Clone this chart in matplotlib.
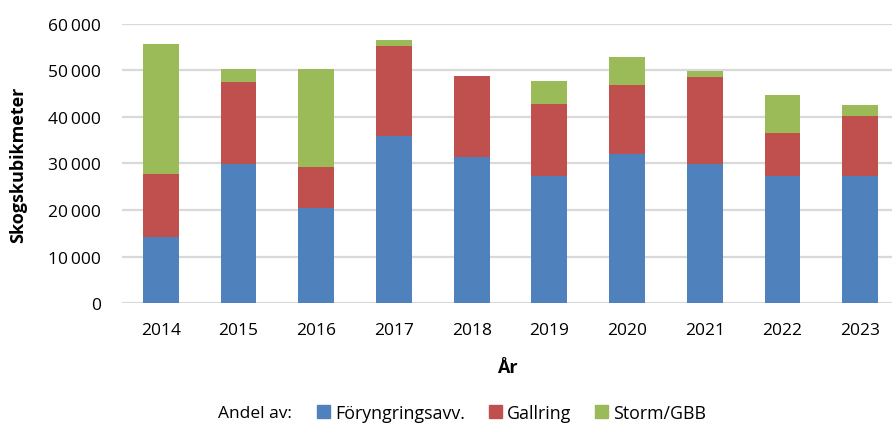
import matplotlib
matplotlib.use("Agg")
import matplotlib.pyplot as plt
from matplotlib.patches import Patch
from matplotlib.ticker import FuncFormatter
import numpy as np

plt.rcParams['font.family'] = ['Open Sans', 'DejaVu Sans']

# data (skogskubikmeter)
years = ["2014", "2015", "2016", "2017", "2018", "2019", "2020", "2021", "2022", "2023"]
foryngring = [14300, 29800, 20400, 36000, 31500, 27400, 32000, 29900, 27400, 27400]
gallring = [13400, 17700, 8900, 19200, 17300, 15400, 14900, 18700, 9200, 12900]
storm = [27900, 2800, 21000, 1400, 0, 4900, 6000, 1200, 8100, 2300]
series_names = ["Föryngringsavv.", "Gallring", "Storm/GBB"]
colors = ["#4F81BD", "#C0504D", "#9BBB59"]

W, H = 892, 427
fs = 12.5
fig = plt.figure(figsize=(W / 100, H / 100), dpi=100)
ax = fig.add_axes([122 / W, 123 / H, (892 - 122) / W, (304 - 25) / H])

x = np.arange(len(years))
bottom = np.zeros(len(years))
for vals, c in zip([foryngring, gallring, storm], colors):
    ax.bar(x, vals, width=0.46, bottom=bottom, color=c, zorder=3)
    bottom += np.array(vals)

ax.set_xlim(-0.5, 9.41)
ax.set_ylim(0, 60000)
ax.set_yticks(range(0, 60001, 10000))
ax.yaxis.set_major_formatter(FuncFormatter(lambda v, p: f"{int(v):,}".replace(",", "\u2009")))
ax.set_xticks(x)
ax.set_xticklabels(years)
ax.grid(axis="y", color="#d9d9d9", linewidth=1.6, zorder=0)
for s in ax.spines.values():
    s.set_visible(False)
ax.tick_params(length=0, labelsize=fs, colors="black")
ax.tick_params(axis="x", pad=14)
ax.tick_params(axis="y", pad=15)

fig.text(18 / W, 1 - 165 / H, "Skogskubikmeter", fontsize=13, fontweight="bold",
         rotation=90, ha="center", va="center")
fig.text(507 / W, 1 - 368 / H, "År", fontsize=13, fontweight="bold", ha="center", va="center")

fig.text(218 / W, 13 / H, "Andel av:", fontsize=fs, va="center", ha="left")
handles = [Patch(color=c, label=n) for c, n in zip(colors, series_names)]
fig.legend(handles=handles, loc="center left", bbox_to_anchor=(317 / W, 13 / H), ncol=3,
           frameon=False, fontsize=12.8, handlelength=0.75, handleheight=0.75,
           handletextpad=0.3, columnspacing=1.3, borderaxespad=0, borderpad=0)

fig.savefig("out.png", dpi=100)
